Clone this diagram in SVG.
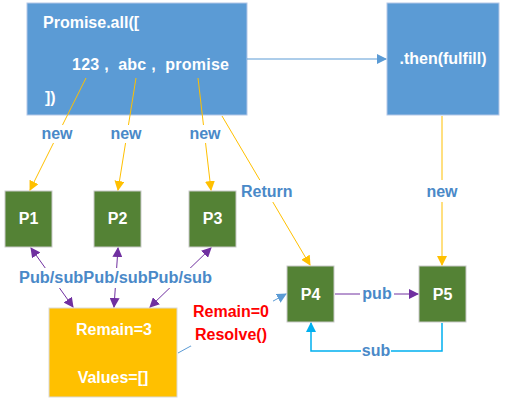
<svg xmlns="http://www.w3.org/2000/svg" width="505" height="406" viewBox="0 0 505 406">
<style>
text{font-family:"Liberation Sans",Arial,sans-serif;font-weight:bold;font-size:16px}
.w{fill:#fff}
.lb{fill:#4A89C8}
.red{fill:#FF0000}
.blue{fill:#5B9BD5;stroke:#B4C7E7;stroke-width:1}
.green{fill:#548235;stroke:#C9C9C9;stroke-width:1}
.yel{fill:#FFC000;stroke:#D9D9D9;stroke-width:1}
.y{stroke:#FFC000;stroke-width:1;fill:none}
.p{stroke:#7030A0;stroke-width:1;fill:none}
.b{stroke:#5B9BD5;stroke-width:1;fill:none}
.c{stroke:#00B0F0;stroke-width:1.5;fill:none}
.bg{fill:#fff}
</style>
<defs>
<marker id="ay" markerWidth="10" markerHeight="10" refX="9" refY="5" orient="auto" markerUnits="userSpaceOnUse"><path d="M0,0L10,5L0,10z" fill="#FFC000"/></marker>
<marker id="ap" markerWidth="10" markerHeight="10" refX="9" refY="5" orient="auto-start-reverse" markerUnits="userSpaceOnUse"><path d="M0,0L10,5L0,10z" fill="#7030A0"/></marker>
<marker id="ab" markerWidth="10" markerHeight="10" refX="9" refY="5" orient="auto" markerUnits="userSpaceOnUse"><path d="M0,0L10,5L0,10z" fill="#5B9BD5"/></marker>
<marker id="ac" markerWidth="10" markerHeight="10" refX="9" refY="5" orient="auto" markerUnits="userSpaceOnUse"><path d="M0,0L10,5L0,10z" fill="#00B0F0"/></marker>
</defs>

<g id="promiseAll">
<rect class="blue" x="27" y="3" width="220" height="112"/>
<text class="w" x="43" y="28">Promise.all([</text>
<text class="w" x="72" y="70" xml:space="preserve" textLength="157">123 ,  abc ,  promise</text>
<text class="w" x="45" y="103">])</text>
</g>
<g id="then">
<rect class="blue" x="387" y="3" width="112" height="112"/>
<text class="w" x="443" y="64" text-anchor="middle">.then(fulfill)</text>
</g>
<g id="P1"><rect class="green" x="5" y="191" width="47" height="56"/><text class="w" x="28.5" y="224" text-anchor="middle">P1</text></g>
<g id="P2"><rect class="green" x="94" y="191" width="47" height="56"/><text class="w" x="117.5" y="224" text-anchor="middle">P2</text></g>
<g id="P3"><rect class="green" x="189" y="191" width="47" height="56"/><text class="w" x="212.5" y="224" text-anchor="middle">P3</text></g>
<g id="P4"><rect class="green" x="287" y="266" width="47" height="56"/><text class="w" x="310.5" y="300" text-anchor="middle">P4</text></g>
<g id="P5"><rect class="green" x="419" y="266" width="47" height="56"/><text class="w" x="442.5" y="300" text-anchor="middle">P5</text></g>
<g id="state">
<rect class="yel" x="49" y="308" width="128" height="89"/>
<text class="w" x="114" y="335" text-anchor="middle">Remain=3</text>
<text class="w" x="113" y="383" text-anchor="middle">Values=[]</text>
</g>

<g id="connectors">
<line class="b" x1="247" y1="59" x2="386" y2="59" marker-end="url(#ab)"/>
<line class="y" x1="86" y1="78" x2="30" y2="190" marker-end="url(#ay)"/>
<line class="y" x1="136" y1="78" x2="118" y2="190" marker-end="url(#ay)"/>
<line class="y" x1="198" y1="78" x2="211" y2="190" marker-end="url(#ay)"/>
<line class="y" x1="222" y1="116" x2="310" y2="265" marker-end="url(#ay)"/>
<line class="y" x1="442" y1="116" x2="442" y2="265" marker-end="url(#ay)"/>
<line class="p" x1="73" y1="307" x2="31" y2="248" marker-start="url(#ap)" marker-end="url(#ap)"/>
<line class="p" x1="114" y1="307" x2="118" y2="248" marker-start="url(#ap)" marker-end="url(#ap)"/>
<line class="p" x1="150" y1="307" x2="211" y2="248" marker-start="url(#ap)" marker-end="url(#ap)"/>
<line class="b" x1="178" y1="353" x2="286" y2="294" marker-end="url(#ab)"/>
<line class="p" x1="335" y1="294" x2="418" y2="294" marker-end="url(#ap)"/>
<polyline class="c" points="442,323 442,351 311,351 311,323" marker-end="url(#ac)"/>
<!-- label backgrounds -->
<rect class="bg" x="38" y="125" width="38" height="18"/>
<rect class="bg" x="107" y="125" width="38" height="18"/>
<rect class="bg" x="186" y="125" width="38" height="18"/>
<rect class="bg" x="240" y="180" width="56" height="22"/>
<rect class="bg" x="423" y="180" width="38" height="22"/>
<rect class="bg" x="18" y="268" width="196" height="20"/>
<rect class="bg" x="191" y="300" width="82" height="46"/>
<rect class="bg" x="360" y="284" width="34" height="20"/>
<rect class="bg" x="361" y="342" width="30" height="18"/>
<text class="lb" x="57" y="139" text-anchor="middle">new</text>
<text class="lb" x="126" y="139" text-anchor="middle">new</text>
<text class="lb" x="205" y="139" text-anchor="middle">new</text>
<text class="lb" x="241" y="197">Return</text>
<text class="lb" x="442" y="197" text-anchor="middle">new</text>
<text class="lb" x="19" y="283" textLength="193" lengthAdjust="spacingAndGlyphs">Pub/subPub/subPub/sub</text>
<text class="red" x="231" y="317" text-anchor="middle">Remain=0</text>
<text class="red" x="231" y="340" text-anchor="middle">Resolve()</text>
<text class="lb" x="377" y="299" text-anchor="middle">pub</text>
<text class="lb" x="376" y="356" text-anchor="middle">sub</text>
</g>
</svg>
